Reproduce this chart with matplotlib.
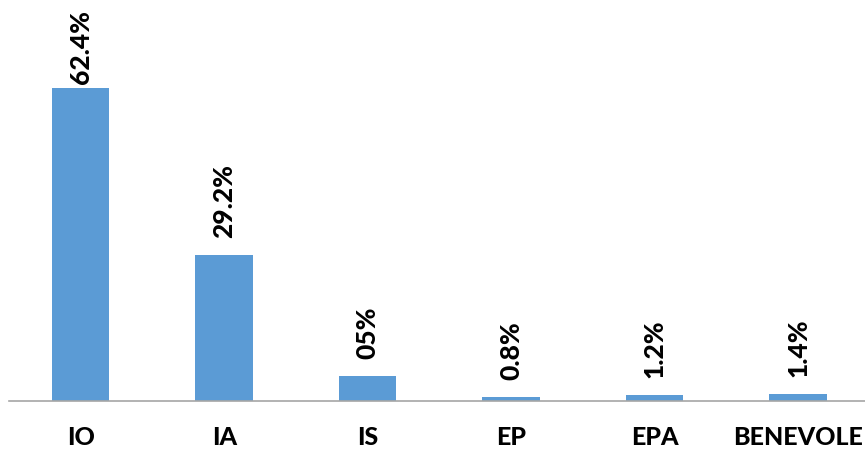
import matplotlib.pyplot as plt

categories = ["IO", "IA", "IS", "EP", "EPA", "BENEVOLE"]
values = [62.4, 29.2, 5.0, 0.8, 1.2, 1.4]
value_labels = ["62.4%", "29.2%", "05%", "0.8%", "1.2%", "1.4%"]

plt.rcParams['font.family'] = ['Lato', 'DejaVu Sans']

fig = plt.figure(figsize=(8.65, 4.49), dpi=100)
ax = fig.add_axes([9 / 865, 48 / 449, 856 / 865, 401 / 449])

x = list(range(len(categories)))
bars = ax.bar(x, values, width=0.4, color="#5b9bd5")

ax.set_xlim(-0.5, 5.467)
ax.set_ylim(0, 80)

texts = []
for xi, v, lab in zip(x, values, value_labels):
    t = ax.annotate(lab, (xi, v), xytext=(0, 12), textcoords="offset points",
                    rotation=90, ha="center", va="bottom",
                    fontsize=19, fontweight="black", color="black")
    texts.append(t)

# like Excel: keep labels inside the chart area, push down if needed
fig.canvas.draw()
r = fig.canvas.get_renderer()
H = fig.bbox.height
for t in texts:
    bb = t.get_window_extent(r)
    over = bb.y1 - (H - 10)
    if over > 0:
        t.set_position((0, 12 - over * 72 / fig.dpi))

ax.set_xticks(x)
ax.set_xticklabels(categories, fontsize=18, fontweight="black")
ax.tick_params(axis="x", length=0, pad=18)
ax.set_yticks([])
for s in ["top", "right", "left"]:
    ax.spines[s].set_visible(False)
ax.spines["bottom"].set_color("#a6a6a6")
ax.spines["bottom"].set_linewidth(1.2)

fig.savefig("out.png", dpi=100)
